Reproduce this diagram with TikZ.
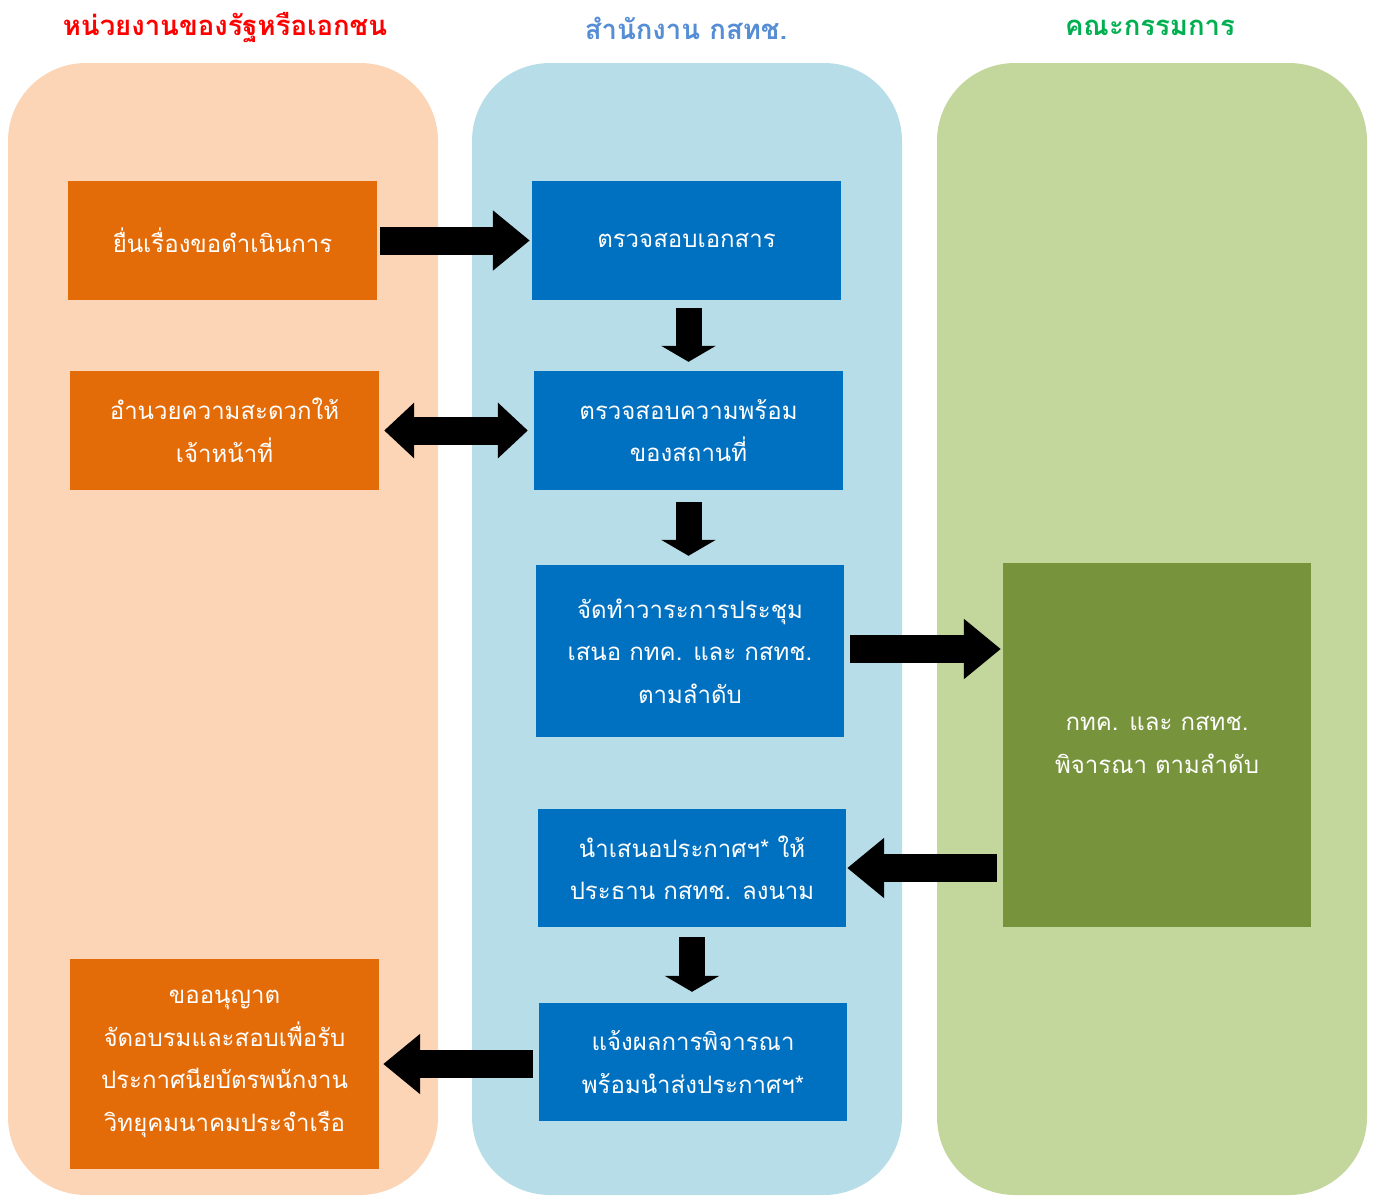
\documentclass[tikz,border=0pt]{standalone}
\usepackage{fontspec}
\setmainfont[Script=Thai]{Loma}
\usetikzlibrary{arrows.meta}
\definecolor{peach}{HTML}{FBD5B5}
\definecolor{lblue}{HTML}{B7DEE8}
\definecolor{lgreen}{HTML}{C3D69B}
\definecolor{orangebox}{HTML}{E36C09}
\definecolor{bluebox}{HTML}{0070C0}
\definecolor{greenbox}{HTML}{77933C}
\definecolor{hred}{HTML}{FF0000}
\definecolor{hblue}{HTML}{558ED5}
\definecolor{hgreen}{HTML}{00B050}
\tikzset{
  panel/.style={rounded corners=78pt, draw=none},
  boxbase/.style={rectangle, inner sep=0pt, text=white, align=center,
    font=\fontsize{24}{42.5}\selectfont},
  obox/.style={boxbase, fill=orangebox, minimum width=309pt},
  bbox/.style={boxbase, fill=bluebox, minimum width=308pt},
  gbox/.style={boxbase, fill=greenbox, minimum width=308pt},
  header/.style={font=\fontsize{27.5}{30}\selectfont\bfseries},
  harrow/.style={line width=28pt, draw=black, -{Triangle[length=37pt,width=58pt]}},
  darrow/.style={line width=28pt, draw=black, {Triangle[length=30pt,width=54pt]}-{Triangle[length=30pt,width=54pt]}},
  varrow/.style={line width=26pt, draw=black, -{Triangle[length=16pt,width=54pt]}}
}
\begin{document}
\begin{tikzpicture}[x=1pt,y=-1pt]
\useasboundingbox (0,0) rectangle (1375,1197);
% panels
\fill[panel, peach] (8,63) rectangle (438,1195);
\fill[panel, lblue] (472,63) rectangle (902,1195);
\fill[panel, lgreen] (937,63) rectangle (1367,1195);
% headers
\node[header, text=hred] (h1) at (225,28) {หน่วยงานของรัฐหรือเอกชน};
\node[header, text=hblue] (h2) at (686,28) {สำนักงาน กสทช.};
\node[header, text=hgreen] (h3) at (1150,28) {คณะกรรมการ};
% boxes
\node[obox, minimum height=119pt] (o1) at (222.5,240.5) {ยื่นเรื่องขอดำเนินการ};
\node[bbox, minimum width=309pt, minimum height=119pt] (b1) at (686.5,240.5) {ตรวจสอบเอกสาร};
\node[obox, minimum height=119pt] (o2) at (224.5,430.5) {อำนวยความสะดวกให้\\เจ้าหน้าที่};
\node[bbox, minimum width=309pt, minimum height=119pt] (b2) at (688.5,430.5) {ตรวจสอบความพร้อม\\ของสถานที่};
\node[bbox, minimum height=172pt] (b3) at (690,651) {จัดทำวาระการประชุม\\เสนอ กทค. และ กสทช.\\ตามลำดับ};
\node[gbox, minimum height=364pt] (g1) at (1157,745) {กทค. และ กสทช.\\พิจารณา ตามลำดับ};
\node[bbox, minimum height=118pt] (b4) at (692,868) {นำเสนอประกาศฯ* ให้\\ประธาน กสทช. ลงนาม};
\node[bbox, minimum height=118pt] (b5) at (693,1062) {แจ้งผลการพิจารณา\\พร้อมนำส่งประกาศฯ*};
\node[obox, minimum height=210pt] (o3) at (224.5,1064) {ขออนุญาต\\จัดอบรมและสอบเพื่อรับ\\ประกาศนียบัตรพนักงาน\\วิทยุคมนาคมประจำเรือ};
% arrows
\draw[harrow] ([xshift=3pt]o1.east) -- ([xshift=-2pt]b1.west);
\draw[varrow] ([yshift=-8pt]b2.north |- b1.south) -- ([yshift=9pt]b2.north);
\draw[darrow] ([xshift=5pt]o2.east) -- ([xshift=-6pt]b2.west);
\draw[varrow] ([yshift=-12pt]b2.south) -- ([yshift=9pt]b2.south |- b3.north);
\draw[harrow] ([xshift=6pt,yshift=2pt]b3.east) -- ([xshift=-2pt,yshift=2pt]b3.east -| g1.west);
\draw[harrow] ([xshift=-6pt]g1.west |- b4.east) -- ([xshift=1pt]b4.east);
\draw[varrow] ([yshift=-10pt]b4.south) -- ([yshift=11pt]b4.south |- b5.north);
\draw[harrow] ([xshift=-6pt,yshift=-2pt]b5.west) -- ([xshift=4pt,yshift=-2pt]b5.west -| o3.east);
\end{tikzpicture}
\end{document}
